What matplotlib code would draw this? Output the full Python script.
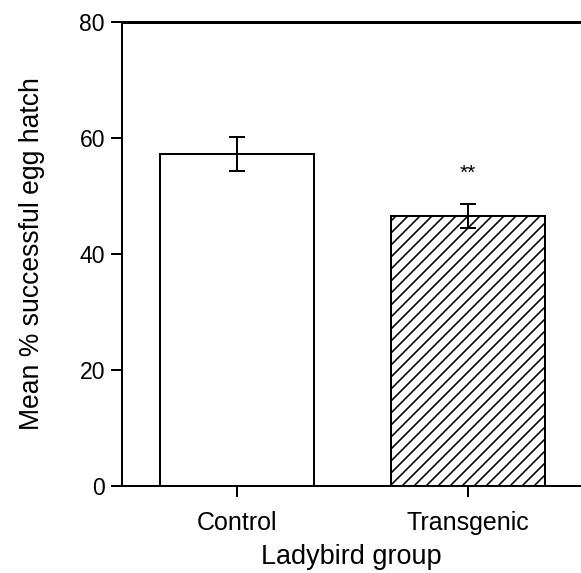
import matplotlib
matplotlib.use("Agg")
import matplotlib.pyplot as plt

# data
groups = ["Control", "Transgenic"]
hatch_mean = [57.3, 46.6]
hatch_err = [2.95, 2.05]
hatch_style = ["", "//"]
signif = ["", "**"]

plt.rcParams['font.family'] = ['Liberation Sans', 'DejaVu Sans']
plt.rcParams['hatch.linewidth'] = 1.6

fig = plt.figure(figsize=(581 / 72, 573 / 72), dpi=72)
ax = fig.add_axes([122 / 581, 87 / 573, 1 - 122 / 581, 464 / 573])

x = range(len(groups))
for i in x:
    ax.bar(i, hatch_mean[i], width=0.665, color="white", edgecolor="black",
           linewidth=2, hatch=hatch_style[i], zorder=2)
    ax.errorbar(i, hatch_mean[i], yerr=hatch_err[i], fmt="none", ecolor="black",
                elinewidth=2, capsize=8, capthick=2, zorder=3)
    if signif[i]:
        ax.text(i, 53.0, signif[i], ha="center", va="baseline", fontsize=21)

ax.set_xlim(-0.4965, 1.49)
ax.set_ylim(0, 80)
ax.set_yticks([0, 20, 40, 60, 80])
ax.set_xticks(list(x))
ax.set_xticklabels(groups)

# spines: thick top line, no right one
ax.spines['right'].set_visible(False)
ax.spines['top'].set_linewidth(3)
ax.spines['left'].set_linewidth(2)
ax.spines['bottom'].set_linewidth(2)

ax.tick_params(axis='y', length=11, width=2, pad=6, labelsize=23)
ax.tick_params(axis='x', length=11, width=2, pad=14, labelsize=25)

ax.set_xlabel("Ladybird group", fontsize=27, labelpad=9)
ax.set_ylabel("Mean % successful egg hatch", fontsize=26.5, labelpad=34)

fig.savefig("out.png", dpi=72)
